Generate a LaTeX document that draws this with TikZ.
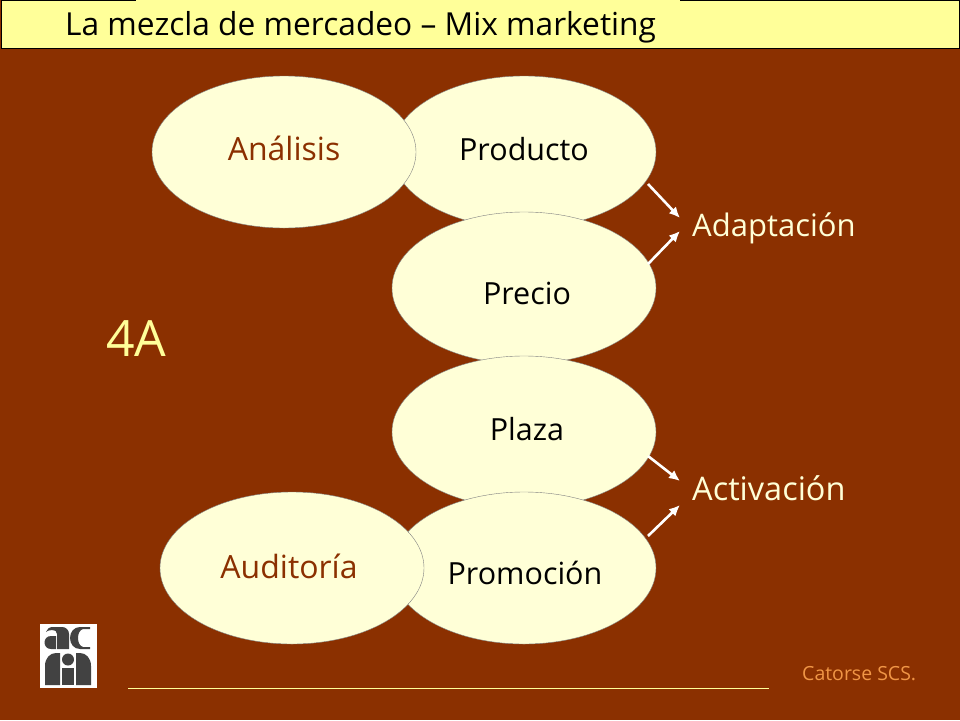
\documentclass[tikz,border=0pt]{standalone}
\usepackage{fontspec}
\setmainfont{Open Sans}
\usetikzlibrary{shapes.geometric}
\usetikzlibrary{calc}
\usetikzlibrary{arrows.meta}
\tikzset{>=latex}
\definecolor{fondo}{RGB}{139,48,0}
\definecolor{crema}{RGB}{255,255,215}
\definecolor{barra}{RGB}{255,255,153}
\definecolor{firma}{RGB}{240,150,70}
\definecolor{logo}{RGB}{66,66,66}
\tikzset{
	elipse/.style={ellipse,draw=gray,fill=crema,minimum width=264,minimum height=152,inner sep=0pt},
	rotulo/.style={anchor=base,inner sep=0pt,font=\fontsize{30.5}{36}\selectfont},
	rotulob/.style={anchor=base,inner sep=0pt,text=fondo,font=\fontsize{32}{36}\selectfont},
	flecha/.style={-{Latex[length=11pt,width=10pt]},white,line width=2.6pt},
	lado/.style={anchor=base west,inner sep=0pt,text=crema,font=\fontsize{31}{36}\selectfont}
}
\begin{document}
\begin{tikzpicture}[x=1pt,y=-1pt]
			\useasboundingbox (0,0) rectangle (960,720);
			\fill[fondo] (0,0) rectangle (960,720);
			% barra del titulo
			\draw[black,fill=barra] (1,0.5) rectangle (959.5,48);
			\fill[barra] (136,0) rectangle (680,2);
			\node[anchor=base west,inner sep=0pt,font=\fontsize{31.7}{36}\selectfont] (titulo) at (65,35) {La mezcla de mercadeo -- Mix marketing};
			% elipses
			\node[elipse] (producto) at (524,152) {};
			\node[elipse] (precio) at (524,288) {};
			\node[elipse] (plaza) at (524,432) {};
			\node[elipse] (promocion) at (524,568) {};
			\node[elipse] (analisis) at (284,152) {};
			\node[elipse] (auditoria) at (292,568) {};
			\node[rotulo] (tproducto) at (524,160) {Producto};
			\node[rotulo] (tprecio) at (527,304) {Precio};
			\node[rotulo] (tplaza) at (527,440) {Plaza};
			\node[rotulo] (tpromocion) at (525,584) {Promoción};
			\node[rotulob] (tanalisis) at (284,160) {Análisis};
			\node[rotulob] (tauditoria) at (289,578) {Auditoría};
			% textos de la derecha
			\node[lado] (adaptacion) at (692,236) {Adaptación};
			\node[lado,font=\fontsize{32.5}{36}\selectfont] (activacion) at (692,500) {Activación};
			\node[anchor=base west,inner sep=0pt,text=barra,font=\fontsize{50}{60}\selectfont] (cuatroa) at (106,356) {4A};
			\node[anchor=base west,inner sep=0pt,text=firma,font=\fontsize{19.5}{24}\selectfont] (catorse) at (802,680) {Catorse SCS.};
			% flechas
			\coordinate (f1) at (648,184);
			\coordinate (f2) at (648,264);
			\coordinate (f3) at (648,456);
			\coordinate (f4) at (648,536);
			\coordinate (p1) at (680,218);
			\coordinate (p2) at (680,231);
			\coordinate (p3) at (680,481);
			\coordinate (p4) at (680,505);
			\draw[flecha] (f1)--(p1);
			\draw[flecha] (f2)--(p2);
			\draw[flecha] (f3)--(p3);
			\draw[flecha] (f4)--(p4);
			% linea inferior
			\coordinate (l1) at (128,688);
			\coordinate (l2) at (769,688);
			\draw[barra] (l1)--(l2);
			% logo
			\fill[white] (40,624) rectangle (97,688);
			\fill[logo] (46,632) .. controls (47,629) and (49,627) .. (53,627) -- (62,627) .. controls (66,627) and (69,630) .. (69,634) -- (69,649) -- (57,649) -- (57,634) .. controls (57,631) and (55,630) .. (52,630) .. controls (49,630) and (47,631) .. (46,632) -- cycle;
			\fill[logo] (56,636) -- (51,636) .. controls (47,636) and (44.5,639) .. (44.5,642.5) .. controls (44.5,646) and (47,649) .. (51,649) -- (56,649) -- cycle;
			\fill[logo] (90,627) -- (80,627) .. controls (74,627) and (70,632) .. (70,638) .. controls (70,644) and (74,649) .. (80,649) -- (90,649) -- (90,647) -- (83,647) .. controls (80,646) and (78,643) .. (78,638) .. controls (78,633) and (80,630) .. (83,629) -- (90,629) -- cycle;
			\fill[logo] (45,685) -- (45,666) .. controls (45,658) and (50,653) .. (56,653) -- (60,653) -- (60,685) -- cycle;
			\fill[logo] (62,668) -- (74,668) -- (74,685) -- (62,685) -- cycle;
			\fill[logo] (68,659.5) circle (6);
			\fill[logo] (76,685) -- (76,653) -- (80,653) .. controls (86,653) and (91,658) .. (91,666) -- (91,685) -- cycle;
		\end{tikzpicture}
\end{document}
